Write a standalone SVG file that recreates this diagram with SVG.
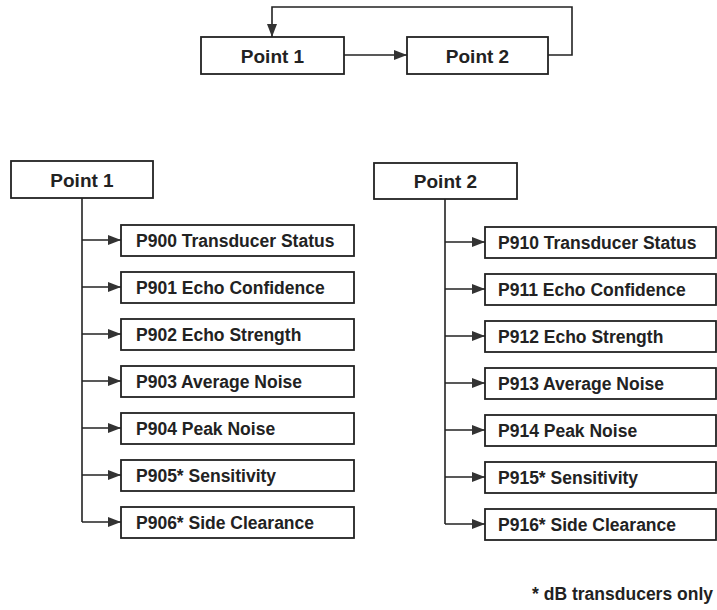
<svg xmlns="http://www.w3.org/2000/svg" width="717" height="610" viewBox="0 0 717 610">
<style>
.box{fill:#fff;stroke:#222;stroke-width:1.8}
.t{font-family:"Liberation Sans",Arial,sans-serif;font-weight:bold;fill:#222}
.title{font-size:19px;text-anchor:middle}
.item{font-size:17.5px}
.c{fill:none;stroke:#222;stroke-width:1.6}
</style>
<defs>
<marker id="ah" markerUnits="userSpaceOnUse" markerWidth="13" markerHeight="10" refX="13" refY="5" orient="auto">
<path d="M0,0 L13,5 L0,10 z" fill="#333"/>
</marker>
</defs>
<rect width="717" height="610" fill="#fff"/>
<g id="connectors">
<path class="c" d="M344,55 H407" marker-end="url(#ah)"/>
<path class="c" d="M548,55 H572 V7 H272 V37" marker-end="url(#ah)"/>
<path class="c" d="M82,198 V522"/>
<path class="c" d="M82,240 H121" marker-end="url(#ah)"/>
<path class="c" d="M82,287 H121" marker-end="url(#ah)"/>
<path class="c" d="M82,334 H121" marker-end="url(#ah)"/>
<path class="c" d="M82,381 H121" marker-end="url(#ah)"/>
<path class="c" d="M82,428 H121" marker-end="url(#ah)"/>
<path class="c" d="M82,475 H121" marker-end="url(#ah)"/>
<path class="c" d="M82,522 H121" marker-end="url(#ah)"/>
<path class="c" d="M445,199 V524"/>
<path class="c" d="M445,242 H485" marker-end="url(#ah)"/>
<path class="c" d="M445,289 H485" marker-end="url(#ah)"/>
<path class="c" d="M445,336 H485" marker-end="url(#ah)"/>
<path class="c" d="M445,383 H485" marker-end="url(#ah)"/>
<path class="c" d="M445,430 H485" marker-end="url(#ah)"/>
<path class="c" d="M445,477 H485" marker-end="url(#ah)"/>
<path class="c" d="M445,524 H485" marker-end="url(#ah)"/>
</g>
<g id="top-point1"><rect class="box" x="201" y="37" width="143" height="37"/><text class="t title" x="272.5" y="62.5">Point 1</text></g>
<g id="top-point2"><rect class="box" x="407" y="37" width="141" height="37"/><text class="t title" x="477.5" y="62.5">Point 2</text></g>
<g id="point1"><rect class="box" x="11" y="161" width="142" height="37"/><text class="t title" x="82" y="187">Point 1</text></g>
<g id="point2"><rect class="box" x="374" y="163" width="143" height="36"/><text class="t title" x="445.5" y="188">Point 2</text></g>
<g id="p900"><rect class="box" x="121" y="225" width="233" height="31"/><text class="t item" x="136" y="246.5">P900 Transducer Status</text></g>
<g id="p901"><rect class="box" x="121" y="272" width="233" height="31"/><text class="t item" x="136" y="293.5">P901 Echo Confidence</text></g>
<g id="p902"><rect class="box" x="121" y="319" width="233" height="31"/><text class="t item" x="136" y="340.5">P902 Echo Strength</text></g>
<g id="p903"><rect class="box" x="121" y="366" width="233" height="31"/><text class="t item" x="136" y="387.5">P903 Average Noise</text></g>
<g id="p904"><rect class="box" x="121" y="413" width="233" height="31"/><text class="t item" x="136" y="434.5">P904 Peak Noise</text></g>
<g id="p905"><rect class="box" x="121" y="460" width="233" height="31"/><text class="t item" x="136" y="481.5">P905* Sensitivity</text></g>
<g id="p906"><rect class="box" x="121" y="507" width="233" height="31"/><text class="t item" x="136" y="528.5">P906* Side Clearance</text></g>
<g id="p910"><rect class="box" x="485" y="227" width="231" height="31"/><text class="t item" x="498" y="248.5">P910 Transducer Status</text></g>
<g id="p911"><rect class="box" x="485" y="274" width="231" height="31"/><text class="t item" x="498" y="295.5">P911 Echo Confidence</text></g>
<g id="p912"><rect class="box" x="485" y="321" width="231" height="31"/><text class="t item" x="498" y="342.5">P912 Echo Strength</text></g>
<g id="p913"><rect class="box" x="485" y="368" width="231" height="31"/><text class="t item" x="498" y="389.5">P913 Average Noise</text></g>
<g id="p914"><rect class="box" x="485" y="415" width="231" height="31"/><text class="t item" x="498" y="436.5">P914 Peak Noise</text></g>
<g id="p915"><rect class="box" x="485" y="462" width="231" height="31"/><text class="t item" x="498" y="483.5">P915* Sensitivity</text></g>
<g id="p916"><rect class="box" x="485" y="509" width="231" height="31"/><text class="t item" x="498" y="530.5">P916* Side Clearance</text></g>
<text class="t item" x="713" y="600" text-anchor="end">* dB transducers only</text>
</svg>
